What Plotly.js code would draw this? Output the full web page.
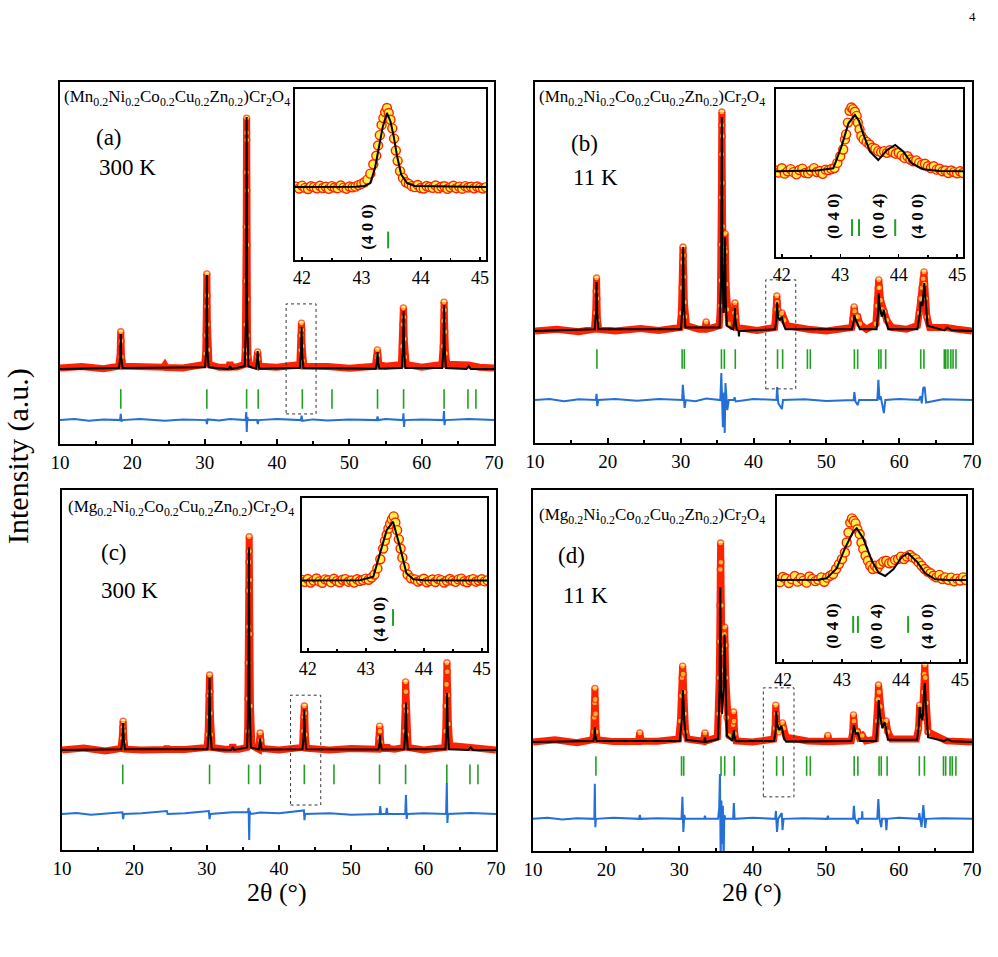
<!DOCTYPE html>
<html><head><meta charset="utf-8">
<script src="https://cdn.plot.ly/plotly-3.0.1.min.js"></script>
<style>html,body{margin:0;padding:0;background:#fff}#plot{width:998px;height:957px}</style>
</head><body><div id="plot"></div>
<script>
// ---------------- DATA ----------------
// Panel (a) (Mn...)Cr2O4, 300 K  -- [2theta, intensity a.u.]
const obsA = [[10,21],[13,21.4],[16,20.8],[18.1,21.5],[18.3,24],[18.36,28],[18.4,31],[18.44,28.5],[18.5,24],[18.7,21.5],[21,21.2],[24.3,21.2],[24.5,21.8],[24.7,21.1],[27,21],[30.0,22],[30.15,25],[30.22,30],[30.27,38],[30.3,47],[30.33,41],[30.38,33],[30.45,26],[30.6,22],[32,21.2],[33.3,21.2],[33.5,22.5],[33.7,21.3],[34.5,21.3],[35.5,22],[35.62,26],[35.68,33],[35.72,45],[35.75,60],[35.77,75],[35.79,86],[35.8,90],[35.82,84],[35.84,70],[35.86,55],[35.88,40],[35.92,30],[36.0,24],[36.2,22],[37.1,21.5],[37.25,24],[37.32,25.4],[37.4,23.5],[37.55,21.5],[40,21.2],[43.15,22],[43.28,26],[43.34,30],[43.38,33.4],[43.42,31.5],[43.47,27],[43.55,23],[43.7,21.5],[47,21.4],[50,20.9],[53.6,21.5],[53.8,24],[53.88,26],[53.95,24.5],[54.1,22],[55,21.5],[57.2,22],[57.35,27],[57.42,33],[57.47,37.6],[57.52,35],[57.58,29],[57.68,24],[57.85,22],[60,21.2],[62.8,22],[62.98,27],[63.05,34],[63.1,39.2],[63.14,37],[63.2,31],[63.3,25],[63.5,22],[66.5,21.8],[68,21.2],[70,21]];
const fitA = [[10,20.7],[18.15,21],[18.32,23.5],[18.4,30.4],[18.48,23.5],[18.65,21],[30.05,21.2],[30.22,26],[30.3,46.7],[30.38,26],[30.55,21.2],[33.3,20.7],[33.5,21.5],[33.7,20.7],[35.55,21.5],[35.72,35],[35.8,90.3],[35.88,35],[36.05,21.5],[37.1,20.8],[37.25,23],[37.32,25.7],[37.4,23],[37.55,20.8],[43.15,21],[43.32,25],[43.4,32.3],[43.48,25],[43.65,21],[53.65,20.8],[53.82,22.5],[53.9,25.4],[53.98,22.5],[54.15,20.8],[57.25,21],[57.42,26],[57.5,36.7],[57.58,26],[57.75,21],[62.85,21],[63.02,26.5],[63.1,38.4],[63.18,26.5],[63.35,21],[66.2,20.7],[66.5,21.5],[66.8,20.7],[70,20.7]];
const difA = [[10,6.6],[12,6.9],[14,6.4],[16,6.8],[18.3,6.6],[18.4,8.3],[18.5,6.2],[18.6,6.6],[21,6.9],[24.5,6.4],[27,6.8],[30.2,6.6],[30.32,5.5],[30.4,6.8],[32,6.5],[33.5,6.9],[35.65,6.6],[35.75,8.8],[35.82,3.3],[35.9,7.5],[36.0,6.6],[37.25,6.6],[37.35,5.5],[37.45,6.6],[40,6.9],[43.3,6.6],[43.4,7.8],[43.5,6.4],[45,6.8],[47,6.5],[50,6.8],[53.8,6.6],[53.9,7.6],[54.0,6.6],[55,6.9],[57.4,6.6],[57.48,8.5],[57.56,4.7],[57.65,6.6],[60,6.8],[63.0,6.6],[63.08,9.1],[63.16,5.2],[63.25,6.6],[66.5,6.9],[70,6.6]];
const ticksA = [18.4,30.3,35.8,37.4,43.5,47.6,53.9,57.5,63.1,66.4,67.5];

// Panel (b) (Mn...)Cr2O4, 11 K
const obsB = [[10,31],[13,31.5],[16,30.8],[18.15,31.5],[18.33,36],[18.4,42],[18.45,45.7],[18.5,40],[18.57,34],[18.75,31.5],[21,31],[24.5,31.7],[27,31.2],[29.9,32],[30.1,36],[30.2,43],[30.27,50],[30.32,54.3],[30.37,52],[30.42,46],[30.5,39],[30.6,35],[30.8,32.5],[32.5,31.5],[33.3,31.5],[33.5,33.5],[33.7,31.6],[34.2,31.8],[35.3,32.5],[35.45,38],[35.52,45],[35.56,55],[35.59,68],[35.62,80],[35.64,88],[35.66,91.7],[35.69,85],[35.72,72],[35.76,60],[35.82,52],[35.9,48],[36.0,50],[36.05,54],[36.1,58],[36.15,53],[36.22,44],[36.35,37],[36.6,33],[37.2,32],[37.35,36],[37.45,38.8],[37.55,35],[37.7,32],[40.5,31.2],[42.9,32],[43.1,37],[43.2,40.7],[43.25,39],[43.32,37],[43.45,35.5],[43.7,35],[43.9,36],[44.2,34],[44.6,32.5],[47.5,31.5],[50,31],[53.5,32],[53.7,34.5],[53.82,37.7],[53.88,36.5],[54.05,35],[54.3,35],[54.6,33],[55.5,31.5],[56.8,33],[57.0,38],[57.12,43],[57.2,45.2],[57.3,43],[57.45,39.5],[57.7,37],[57.95,36.3],[58.3,34],[59,32],[61,31.5],[62.5,32.5],[62.75,36],[62.95,40],[63.15,43],[63.3,45.5],[63.42,47.4],[63.5,44],[63.62,40],[63.8,35],[64.2,32],[66.5,32],[68,31.5],[70,31]];
const fitB = [[10,31],[18.2,31.5],[18.37,36],[18.45,44.6],[18.53,36],[18.7,31.5],[30.05,31.5],[30.25,38],[30.35,54.3],[30.45,38],[30.65,32],[35.35,32],[35.55,45],[35.65,90.3],[35.75,50],[35.88,36],[36.02,40],[36.1,57],[36.18,40],[36.35,32.5],[37.2,31.5],[37.38,34],[37.45,37.4],[37.52,34],[37.7,31.5],[37.95,31],[38.0,29.5],[38.05,31],[42.95,31.5],[43.15,34],[43.25,39],[43.35,35],[43.6,34],[43.9,35],[44.1,33],[44.4,31.5],[53.5,31.5],[53.75,33.5],[53.85,35.4],[53.95,34.5],[54.3,33],[54.6,31.5],[56.9,31.5],[57.1,36],[57.2,41.5],[57.3,38],[57.6,35],[57.9,36.8],[58.15,34],[58.5,31.5],[62.5,31.5],[62.85,36],[62.95,39],[63.2,38],[63.45,44.3],[63.6,40],[63.9,32.5],[66.2,31.2],[66.6,32],[67.2,31.2],[70,31]];
const difB = [[10,11.9],[12,12.2],[14,11.6],[16,12.1],[18.35,11.9],[18.45,13.6],[18.55,10.2],[18.7,11.9],[21,12.2],[24,11.7],[27,12.2],[30.2,11.9],[30.3,16.1],[30.4,12.5],[30.55,9.7],[30.7,11.9],[32,11.6],[33.5,12.3],[35.45,11.9],[35.58,19.4],[35.7,9],[35.8,4.4],[35.95,14],[36.05,2.8],[36.15,16.6],[36.25,12],[36.4,9.1],[36.6,11.9],[37.3,11.9],[37.4,12.7],[37.55,11.5],[40,12.2],[43.15,11.9],[43.25,15.5],[43.4,11],[43.9,9.4],[44.05,11.9],[47,12.1],[50,11.6],[53.75,11.9],[53.85,14.1],[54.0,11.5],[54.3,10.5],[54.5,11.9],[57.0,11.9],[57.15,17.5],[57.3,12],[57.45,13],[57.7,10],[57.9,8.3],[58.1,11.9],[60,12.2],[62.7,11.9],[62.95,13],[63.1,11],[63.3,15.2],[63.5,15.5],[63.7,11.2],[66,12.1],[70,11.9]];
const ticksB = [18.5,30.2,30.5,35.6,36.0,37.5,43.3,44.0,47.4,47.8,53.85,54.3,57.2,57.5,58.15,62.96,63.4,66.2,66.4,66.7,67.1,67.4,67.8];

// Panel (c) (Mg...)Cr2O4, 300 K
const obsC = [[10,27.8],[13,28.3],[16,27.5],[18.15,28.2],[18.33,31],[18.4,34],[18.45,35.8],[18.5,33],[18.57,30],[18.75,28],[21,27.8],[24.3,27.9],[24.5,28.6],[24.7,27.9],[27,27.9],[30.05,28.5],[30.2,32],[30.28,37],[30.34,43],[30.4,48.6],[30.45,44],[30.5,38],[30.58,32],[30.75,28.5],[32.5,28],[33.4,28],[33.6,29.2],[33.8,28],[34.5,28],[35.55,28.5],[35.67,33],[35.72,42],[35.76,52],[35.79,62],[35.82,72],[35.85,80],[35.88,87],[35.9,83],[35.93,75],[35.97,60],[36.05,40],[36.25,29],[37.2,28],[37.33,30.5],[37.4,32.5],[37.48,30.5],[37.62,28.2],[40,27.8],[43.25,28.5],[43.37,33],[43.43,37],[43.5,40],[43.56,38],[43.63,32],[43.8,28.3],[47,27.8],[50,28.2],[53.7,28],[53.85,31],[53.92,34.4],[53.97,33],[54.05,30],[54.2,28.2],[54.7,28.2],[54.9,29],[55.1,28.2],[56,28],[57.25,28.5],[57.38,33],[57.45,40],[57.5,46.7],[57.55,44],[57.6,38.5],[57.68,32],[57.85,28.5],[60,27.8],[62.9,28.5],[63.05,33],[63.12,40],[63.17,46],[63.22,52],[63.27,49.5],[63.33,43],[63.42,35],[63.6,29],[66.5,28.5],[68,28],[70,27.8]];
const fitC = [[10,27.8],[18.2,28],[18.37,31],[18.45,35.3],[18.53,31],[18.7,28],[30.1,28],[30.3,33],[30.4,47.8],[30.5,33],[30.7,28],[33.4,27.8],[33.6,28.6],[33.8,27.8],[35.6,28.5],[35.77,42],[35.85,84],[35.93,42],[36.1,28.5],[37.2,27.9],[37.33,29.5],[37.4,31],[37.47,29.5],[37.6,27.9],[43.25,28],[43.42,32],[43.5,39],[43.58,32],[43.75,28],[53.75,27.9],[53.9,29.5],[53.97,32],[54.04,29.5],[54.2,27.9],[57.3,28],[57.47,33],[57.55,41],[57.63,33],[57.8,28],[63.0,28],[63.17,33.5],[63.25,43.6],[63.33,33.5],[63.5,28],[66.2,27.8],[66.5,28.5],[66.8,27.8],[70,27.8]];
const difC = [[10,10],[12,10.3],[14,9.8],[16,10.2],[18.35,10.5],[18.45,8.6],[18.55,10],[21,10.2],[24.5,10.8],[24.6,10],[27,10.2],[30.3,10.8],[30.4,8.6],[30.5,10],[32,10.2],[33.6,10.5],[35.7,10.5],[35.8,11.7],[35.88,2.8],[35.95,10.8],[36.1,10],[37.4,10.4],[40,10.2],[43.45,11],[43.52,8.3],[43.6,10],[47,10.2],[50,9.8],[53.9,10],[54.0,12.2],[54.1,10],[54.8,10],[54.9,11.7],[55,10],[57.45,10],[57.55,15.3],[57.65,8.6],[57.75,10],[60,10.2],[63.1,10],[63.2,18.6],[63.28,7.5],[63.36,10],[66.5,10.3],[70,10]];
const ticksC = [18.4,30.4,35.8,37.4,43.5,47.6,53.9,57.5,63.2,66.4,67.5];

// Panel (d) (Mg...)Cr2O4, 11 K
const obsD = [[10,30.2],[13,30.8],[16,30],[18.15,30.8],[18.32,33],[18.38,37],[18.42,41],[18.46,45],[18.5,42],[18.55,38],[18.62,33],[18.8,30.8],[21,30.3],[24.4,30.3],[24.6,32.7],[24.8,30.4],[27,30.4],[29.9,31],[30.15,36],[30.3,43],[30.38,48],[30.45,51.2],[30.52,49],[30.6,44],[30.7,38],[30.85,33],[31.1,31],[33.3,30.4],[33.5,32.7],[33.7,30.5],[35.2,31.5],[35.38,38],[35.46,48],[35.52,58],[35.56,68],[35.6,78],[35.64,85.3],[35.68,80],[35.74,68],[35.82,55],[35.9,48],[36.0,50],[36.08,56],[36.15,60],[36.2,62],[36.26,57],[36.34,48],[36.5,37],[36.8,32],[37.2,31.5],[37.35,35],[37.42,38.5],[37.48,36],[37.56,32.5],[37.75,30.5],[40,30.2],[42.9,31],[43.08,34],[43.18,40.4],[43.25,38],[43.35,35],[43.6,33],[43.95,34.5],[44.1,35.5],[44.25,34],[44.6,31.5],[47.5,30.5],[50.1,30.3],[50.3,32],[50.5,30.3],[53.5,30.5],[53.7,33],[53.8,37.7],[53.87,36],[54.0,33],[54.35,33],[54.6,31.5],[55.0,32],[55.5,30.5],[56.8,31],[57.05,36],[57.15,42],[57.22,46],[57.3,44],[57.45,40],[57.7,36],[58.1,35],[58.25,36],[58.5,33],[59,31],[62.4,31],[62.7,34],[62.85,40.4],[63.0,38],[63.2,37],[63.38,44],[63.48,49],[63.55,51.5],[63.62,48],[63.75,41],[64.0,33],[66.5,30.5],[68,30.3],[70,30.2]];
const fitD = [[10,30.2],[18.25,30.5],[18.4,32],[18.46,34.3],[18.52,32],[18.7,30.5],[30.05,30.5],[30.32,36],[30.5,44.6],[30.68,36],[30.95,30.8],[33.4,30.2],[33.5,31.5],[33.6,30.2],[35.3,31],[35.5,45],[35.6,73],[35.7,45],[35.85,38],[36.05,45],[36.18,60],[36.3,45],[36.5,32],[37.25,30.5],[37.4,32],[37.46,33.5],[37.52,32],[37.7,30.4],[42.95,30.5],[43.15,33],[43.25,38.8],[43.38,35],[43.65,33.5],[43.95,34.6],[44.12,33.3],[44.3,31.2],[44.6,30.3],[53.5,30.5],[53.75,33],[53.85,34.9],[54.1,32.5],[54.4,32.7],[54.7,30.5],[56.9,30.5],[57.1,35],[57.25,41.8],[57.4,38],[57.75,34],[58.05,35.7],[58.25,34],[58.5,30.8],[62.5,30.8],[62.75,35],[62.85,39.9],[63.05,37],[63.25,36.3],[63.45,44],[63.55,46.5],[63.7,40],[64.0,31.5],[66.2,30.4],[66.6,31],[67.2,30.4],[70,30.2]];
const difD = [[10,8.9],[12,9.2],[14,8.7],[16,9.1],[18.38,8.9],[18.45,18.6],[18.52,6.6],[18.6,8.9],[21,9.2],[24.5,8.9],[24.6,10],[24.7,8.9],[27,9.1],[30.3,8.9],[30.42,15],[30.55,5.3],[30.68,10],[30.8,8.9],[33.4,8.9],[33.5,9.8],[33.6,8.9],[35.3,8.9],[35.45,12],[35.55,21.3],[35.65,-2],[35.75,14],[35.85,2],[35.95,12.5],[36.05,-3],[36.15,10],[36.3,8.9],[37.35,8.9],[37.45,13.3],[37.55,8.9],[40,9.2],[43.1,8.9],[43.2,11.1],[43.35,5.3],[43.5,8.9],[44.0,10.5],[44.1,5.8],[44.25,8.9],[47,9.1],[50.2,8.9],[50.3,9.8],[50.4,8.9],[53.75,8.9],[53.85,12.5],[54.0,9],[54.4,7.5],[54.5,8.9],[54.95,8.9],[55.0,11],[55.05,8.9],[57.05,8.9],[57.2,14.4],[57.35,9],[57.6,6.6],[57.7,8.9],[58.2,8.9],[58.3,5.8],[58.4,8.9],[60,9.2],[62.7,8.9],[62.8,10.5],[63.1,6.6],[63.35,12.7],[63.45,10],[63.6,6.4],[63.75,8.9],[66,9.1],[70,8.9]];
const ticksD = [18.6,30.3,30.6,35.7,36.2,37.5,43.3,44.2,47.4,47.9,53.9,54.4,57.3,57.6,58.4,62.8,63.5,66.1,66.4,67.0,67.3,67.8];

// Zoomed region boxes [x0, x1, y0, y1]
const boxA = [41.26,45.4,8.3,38.7], boxB = [41.68,45.8,15,45.2], boxC = [41.6,45.77,12.5,43], boxD = [41.48,45.67,15,45.2];

// Insets (42-45 deg)
const inObsA = [[41.90,42.9],[41.95,41.8],[42.00,43.5],[42.05,42.2],[42.10,41.5],[42.15,43.1],[42.20,42.6],[42.25,41.9],[42.30,43.4],[42.35,42.1],[42.40,42.8],[42.45,41.6],[42.50,43.2],[42.55,42.4],[42.60,42.0],[42.65,43.6],[42.70,42.3],[42.75,41.7],[42.80,43.0],[42.85,42.5],[42.90,42.9],[42.95,43.8],[43.00,44.5],[43.05,45.5],[43.10,47],[43.15,50.5],[43.20,56],[43.25,61],[43.28,67],[43.31,73],[43.34,79],[43.37,83],[43.40,86.5],[43.43,88.9],[43.46,86],[43.49,82],[43.52,77],[43.55,71],[43.58,64],[43.61,58],[43.65,52],[43.70,48],[43.75,45.5],[43.80,44.5],[43.85,43.2],[43.90,42.6],[43.95,43.9],[44.00,42.1],[44.05,41.8],[44.10,43.3],[44.15,42.7],[44.20,42.2],[44.25,43.6],[44.30,41.9],[44.35,42.8],[44.40,43.1],[44.45,41.6],[44.50,42.5],[44.55,43.4],[44.60,42.0],[44.65,42.9],[44.70,41.7],[44.75,43.2],[44.80,42.4],[44.85,42.8],[44.90,41.9],[44.95,43.0],[45.00,42.3],[45.05,41.8],[45.10,42.6]];
const inFitA = [[41.88,42.7],[42.9,42.8],[43.05,43.3],[43.15,45],[43.23,54],[43.3,66],[43.36,78],[43.43,86],[43.49,81],[43.54,73],[43.6,61],[43.67,50],[43.77,45],[43.9,43.3],[45.1,42.7]];
const inTicksA = [43.45];

const inObsB = [[41.90,51.5],[41.95,50.2],[42.00,52.8],[42.05,49.6],[42.10,51.0],[42.15,52.3],[42.20,50.5],[42.25,49.2],[42.30,51.8],[42.35,52.6],[42.40,50.1],[42.45,49.8],[42.50,51.4],[42.55,52.9],[42.60,50.6],[42.65,51.2],[42.70,49.5],[42.75,52.0],[42.80,51.7],[42.85,52.4],[42.90,53],[42.95,56],[43.00,60],[43.05,64],[43.08,70],[43.10,73],[43.13,80],[43.16,87],[43.19,89],[43.22,88],[43.25,86.5],[43.28,84],[43.30,80],[43.33,76],[43.36,72],[43.40,70],[43.45,68.5],[43.50,67],[43.55,65],[43.60,64.5],[43.65,63],[43.70,62.5],[43.75,63],[43.80,62],[43.85,63.5],[43.90,62.5],[43.95,61.5],[44.00,62],[44.05,60.5],[44.10,59],[44.15,60],[44.20,58],[44.25,57],[44.30,57.5],[44.35,56],[44.40,55],[44.45,55.5],[44.50,54],[44.55,53],[44.60,54],[44.65,52],[44.70,52.5],[44.75,51],[44.80,51.5],[44.85,50],[44.90,51.5],[44.95,50.5],[45.00,49.8],[45.05,51],[45.10,50]];
const inFitB = [[41.9,51],[42.6,51.5],[42.88,52.8],[43.02,65.7],[43.14,79.6],[43.25,84.5],[43.32,81],[43.39,73.6],[43.51,62.7],[43.65,57.7],[43.8,63.7],[43.94,66.7],[44.08,62.7],[44.22,55.8],[44.42,52.2],[44.7,51.2],[45.1,51]];
const inTicksB = [43.2,43.32,43.94];

const inObsC = [[41.90,46.5],[41.95,45.2],[42.00,47.1],[42.05,44.8],[42.10,46.0],[42.15,47.4],[42.20,45.5],[42.25,44.6],[42.30,46.8],[42.35,46.2],[42.40,45.0],[42.45,47.2],[42.50,45.7],[42.55,44.9],[42.60,46.6],[42.65,47.0],[42.70,45.3],[42.75,46.1],[42.80,44.7],[42.85,46.9],[42.90,45.8],[42.95,46.4],[43.00,47.3],[43.05,46.6],[43.10,48],[43.15,50],[43.20,54],[43.25,60],[43.30,67],[43.33,72],[43.36,76],[43.39,80],[43.42,83],[43.45,86],[43.48,88],[43.51,84],[43.54,79],[43.57,73],[43.60,67],[43.63,61],[43.67,55],[43.72,50],[43.78,47.5],[43.85,46.8],[43.90,45.4],[43.95,46.2],[44.00,47.2],[44.05,44.9],[44.10,45.8],[44.15,46.7],[44.20,45.1],[44.25,47.0],[44.30,46.3],[44.35,44.8],[44.40,45.9],[44.45,47.1],[44.50,46.0],[44.55,45.2],[44.60,46.8],[44.65,47.3],[44.70,45.6],[44.75,44.9],[44.80,46.4],[44.85,47.0],[44.90,45.3],[44.95,46.1],[45.00,46.9],[45.05,45.5],[45.10,46.2]];
const inFitC = [[41.9,46],[42.9,46.2],[43.13,48.6],[43.24,63.8],[43.36,79],[43.47,84.5],[43.59,68],[43.7,50.8],[43.82,46.9],[44.0,46.2],[45.09,46]];
const inTicksC = [43.47];

const inObsD = [[41.90,49.5],[41.95,48.1],[42.00,51.2],[42.05,50.3],[42.10,47.6],[42.15,49.9],[42.20,51.8],[42.25,48.4],[42.30,50.6],[42.35,49.0],[42.40,47.8],[42.45,51.5],[42.50,50.1],[42.55,48.7],[42.60,49.6],[42.65,51.0],[42.70,48.3],[42.75,50.8],[42.80,52],[42.85,53],[42.90,56],[42.95,59],[43.00,62],[43.05,66],[43.08,72],[43.11,78],[43.14,84],[43.17,86.5],[43.20,85],[43.23,83.5],[43.26,80],[43.30,77],[43.33,72],[43.36,68],[43.40,64],[43.44,61],[43.48,58],[43.52,56],[43.56,58],[43.60,56.5],[43.65,59],[43.70,60.5],[43.75,61],[43.80,59.5],[43.85,60],[43.90,61.5],[43.95,62],[44.00,63.5],[44.05,62],[44.10,63.5],[44.15,64.5],[44.20,63],[44.25,62],[44.30,60],[44.35,58],[44.40,56],[44.45,54.5],[44.50,53.5],[44.55,52],[44.60,51],[44.65,52.5],[44.70,50],[44.75,51],[44.80,49.5],[44.85,50.8],[44.90,48.6],[44.95,50.2],[45.00,49.1],[45.05,51],[45.10,49.4]];
const inFitD = [[41.9,49.4],[42.6,49.6],[42.74,50.4],[42.91,56.4],[43.05,68.5],[43.19,78.5],[43.25,80.5],[43.36,74.5],[43.5,61.4],[43.62,53.8],[43.73,51.8],[43.87,55.8],[44.01,63.1],[44.12,65.5],[44.27,60.4],[44.41,53.4],[44.58,49.8],[44.8,49.4],[45.1,49.4]];
const inTicksD = [43.19,43.27,44.12];

// Text
const formulaMn = '(Mn<sub>0.2</sub>Ni<sub>0.2</sub>Co<sub>0.2</sub>Cu<sub>0.2</sub>Zn<sub>0.2</sub>)Cr<sub>2</sub>O<sub>4</sub>';
const formulaMg = '(Mg<sub>0.2</sub>Ni<sub>0.2</sub>Co<sub>0.2</sub>Cu<sub>0.2</sub>Zn<sub>0.2</sub>)Cr<sub>2</sub>O<sub>4</sub>';
const panelLabels = ['(a)','(b)','(c)','(d)'];
const tempLabels = ['300 K','11 K','300 K','11 K'];
const hkl = {a:[['(4 0 0)',43.10]], b:[['(0 4 0)',42.88],['(0 0 4)',43.65],['(4 0 0)',44.32]], c:[['(4 0 0)',43.24]], d:[['(0 4 0)',42.85],['(0 0 4)',43.59],['(4 0 0)',44.45]]};

// ---------------- BUILD ----------------
const W = 998, H = 957;
const FONT = 'Liberation Serif';
const RED = '#ff2200', YEL = '#fff04a', BLUE = '#2470d8', GREEN = '#22a022';
const px = (a,b) => [a/W, b/W];
const py = (top,bot) => [1-bot/H, 1-top/H];
const X = p => p.map(v=>v[0]), Y = p => p.map(v=>v[1]);

const traces = [];
function mainPanel(ax, obs, fit, dif, ticks, tickY){
  const xa = 'x'+ax, ya = 'y'+ax;
  const base = obs[0][1];
  traces.push({x:X(obs), y:Y(obs), xaxis:xa, yaxis:ya, type:'scatter', mode:'lines',
    line:{color:RED, width:7}});
  traces.push({x:X(obs), y:Y(obs), xaxis:xa, yaxis:ya, type:'scatter', mode:'markers',
    marker:{symbol:'circle', size:obs.map(p => (p[1]-base > 1.8 ? 6 : 0)), color:YEL, line:{color:RED, width:1.4}}});
  traces.push({x:X(fit), y:Y(fit), xaxis:xa, yaxis:ya, type:'scatter', mode:'lines', line:{color:'#000', width:2}});
  traces.push({x:ticks, y:ticks.map(()=>tickY), xaxis:xa, yaxis:ya, type:'scatter', mode:'markers',
    marker:{symbol:'line-ns-open', size:14, color:GREEN, line:{color:GREEN, width:1.6}}});
  traces.push({x:X(dif), y:Y(dif), xaxis:xa, yaxis:ya, type:'scatter', mode:'lines', line:{color:BLUE, width:2}});
}
function inset(ax, obs, fit, ticks, tickY){
  const xa = 'x'+ax, ya = 'y'+ax;
  traces.push({x:X(obs), y:Y(obs), xaxis:xa, yaxis:ya, type:'scatter', mode:'markers',
    marker:{symbol:'circle', size:9, color:YEL, line:{color:RED, width:1.4}}});
  traces.push({x:X(fit), y:Y(fit), xaxis:xa, yaxis:ya, type:'scatter', mode:'lines', line:{color:'#000', width:2}});
  traces.push({x:ticks, y:ticks.map(()=>tickY), xaxis:xa, yaxis:ya, type:'scatter', mode:'markers',
    marker:{symbol:'line-ns-open', size:12, color:GREEN, line:{color:GREEN, width:2}}});
}
mainPanel('', obsA, fitA, difA, ticksA, 12.45);
mainPanel('2', obsB, fitB, difB, ticksB, 23.25);
mainPanel('3', obsC, fitC, difC, ticksC, 21.0);
mainPanel('4', obsD, fitD, difD, ticksD, 23.55);
inset('5', inObsA, inFitA, inTicksA, 11.7);
inset('6', inObsB, inFitB, inTicksB, 17.5);
inset('7', inObsC, inFitC, inTicksC, 21.9);
inset('8', inObsD, inFitD, inTicksD, 22.6);

function mainX(dom, anchor){
  return {domain:dom, anchor:anchor, range:[10,70], dtick:10, tick0:10, ticks:'inside', ticklen:5, tickwidth:2, tickcolor:'#000',
    minor:{dtick:5, ticks:'inside', ticklen:3, tickwidth:2, tickcolor:'#000'},
    showline:true, linewidth:2, linecolor:'#000', mirror:true, showgrid:false, zeroline:false,
    tickfont:{family:FONT, size:19, color:'#000'}};
}
function mainY(dom, anchor){
  return {domain:dom, anchor:anchor, range:[0,100], showticklabels:false, ticks:'', showline:true, linewidth:2,
    linecolor:'#000', mirror:true, showgrid:false, zeroline:false};
}
function insX(dom, anchor, rng){
  return {domain:dom, anchor:anchor, range:rng, dtick:1, tick0:42, ticks:'inside', ticklen:3, tickwidth:1.5, tickcolor:'#000',
    minor:{dtick:0.5, ticks:'inside', ticklen:2, tickwidth:1.5, tickcolor:'#000'},
    showline:true, linewidth:2, linecolor:'#000', mirror:true, showgrid:false, zeroline:false,
    tickfont:{family:FONT, size:18, color:'#000'}};
}

const layout = {
  width:W, height:H, margin:{l:0,r:0,t:0,b:0}, paper_bgcolor:'#fff', plot_bgcolor:'rgba(0,0,0,0)',
  font:{family:FONT, color:'#000'},
  showlegend:false, hovermode:false,
  xaxis: mainX(px(60,494), 'y'),   yaxis: mainY(py(82,444), 'x'),
  xaxis2: mainX(px(535,972), 'y2'), yaxis2: mainY(py(82,443), 'x2'),
  xaxis3: mainX(px(62,496), 'y3'),  yaxis3: mainY(py(490,850), 'x3'),
  xaxis4: mainX(px(533,972), 'y4'), yaxis4: mainY(py(490,851), 'x4'),
  xaxis5: insX(px(295,486), 'y5', [41.88,45.1]), yaxis5: mainY(py(89,260), 'x5'),
  xaxis6: insX(px(776,963), 'y6', [41.9,45.1]),  yaxis6: mainY(py(89,257), 'x6'),
  xaxis7: insX(px(302,487), 'y7', [41.9,45.09]), yaxis7: mainY(py(498,651), 'x7'),
  xaxis8: insX(px(777,966), 'y8', [41.9,45.1]),  yaxis8: mainY(py(496,662), 'x8'),
  shapes: [], annotations: []
};
[[boxA,'x','y'],[boxB,'x2','y2'],[boxC,'x3','y3'],[boxD,'x4','y4']].forEach(([b,xr,yr])=>{
  layout.shapes.push({type:'rect', xref:xr, yref:yr, x0:b[0], x1:b[1], y0:b[2], y1:b[3],
    line:{color:'#333', width:1, dash:'dot'}, fillcolor:'rgba(0,0,0,0)'});
});
function ann(text, x, y, size, o){
  layout.annotations.push(Object.assign({text:text, x:x/W, y:1-y/H, xref:'paper', yref:'paper', showarrow:false,
    xanchor:'left', yanchor:'middle', font:{family:FONT, size:size, color:'#000'}}, o||{}));
}
ann(formulaMn, 62, 98, 17); ann(formulaMn, 537, 98, 17);
ann(formulaMg, 66, 508, 17); ann(formulaMg, 537, 516, 17);
ann(panelLabels[0], 94, 137, 23); ann(tempLabels[0], 97, 167, 23);
ann(panelLabels[1], 569, 143, 23); ann(tempLabels[1], 571, 178, 23);
ann(panelLabels[2], 99, 552, 23); ann(tempLabels[2], 99, 590, 23);
ann(panelLabels[3], 556, 555, 23); ann(tempLabels[3], 561, 595, 23);
ann('Intensity (a.u.)', 18, 456, 30, {xanchor:'center', textangle:-90});
ann('2θ (°)', 277, 892, 26, {xanchor:'center'});
ann('2θ (°)', 752, 892, 26, {xanchor:'center'});
ann('4', 972, 16, 13, {xanchor:'center'});

// hkl labels inside insets
[['a','x5','y5',19.1],['b','x6','y6',24],['c','x7','y7',20.7],['d','x8','y8',21.3]].forEach(([k,xr,yr,yv])=>{
  hkl[k].forEach(([t,xv])=>{
    layout.annotations.push({text:'<b>'+t+'</b>', x:xv, y:yv, xref:xr, yref:yr, showarrow:false, textangle:-90,
      xanchor:'center', yanchor:'middle', font:{family:FONT, size:17, color:'#000'}});
  });
});

Plotly.newPlot('plot', traces, layout, {staticPlot:true});
</script></body></html>
